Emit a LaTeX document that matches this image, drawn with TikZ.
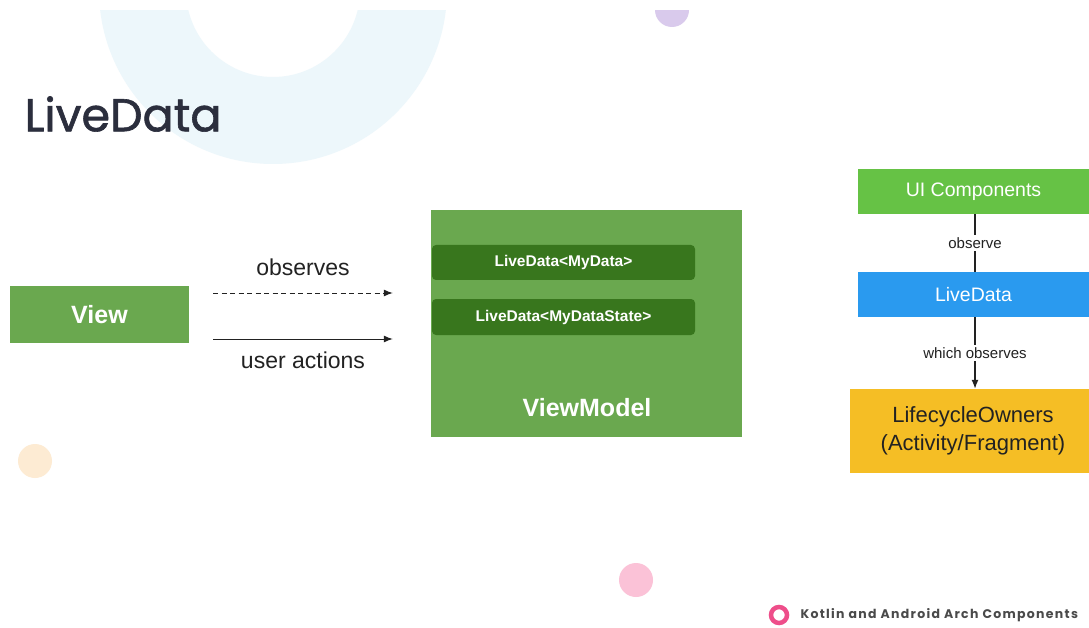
\documentclass[tikz,border=0pt]{standalone}
\usepackage{fontspec}
\setmainfont{Liberation Sans}
\newfontfamily\titlefont[FakeBold=1.3]{Poppins}
\newfontfamily\footfont[LetterSpace=10.5]{Poppins}
\usetikzlibrary{arrows.meta}
\definecolor{ringblue}{HTML}{EDF7FB}
\definecolor{lilac}{HTML}{D9CAEC}
\definecolor{peach}{HTML}{FDEBD3}
\definecolor{blush}{HTML}{FBC2D7}
\definecolor{titleink}{HTML}{2B2E3D}
\definecolor{leafgreen}{HTML}{6AA84F}
\definecolor{darkleaf}{HTML}{38761D}
\definecolor{limegreen}{HTML}{66C245}
\definecolor{skyblue}{HTML}{2A9AEF}
\definecolor{sunyellow}{HTML}{F5BE25}
\definecolor{ink}{HTML}{222222}
\definecolor{footink}{HTML}{4A4A4A}
\definecolor{logopink}{HTML}{EE4E8A}
\tikzset{
  box/.style={inner sep=0pt, draw=none},
  greenbox/.style={box, fill=leafgreen, text=white, font=\bfseries\fontsize{25}{30}\selectfont},
  databox/.style={box, fill=darkleaf, rounded corners=4pt, text=white,
    minimum width=263pt, font=\bfseries\fontsize{15.5}{18}\selectfont},
  sidebox/.style={box, minimum width=231pt, minimum height=45pt, text=white,
    font=\fontsize{19.5}{23}\selectfont},
  flowlabel/.style={text=ink, font=\fontsize{23}{27}\selectfont},
  linklabel/.style={fill=white, inner sep=2pt, text=ink, font=\fontsize{15}{18}\selectfont},
  conn/.style={draw=ink, line width=1.3pt},
  tip/.style={-{Latex[length=9pt,width=7pt]}},
}
\begin{document}
\begin{tikzpicture}[x=1pt,y=-1pt]
  % page
  \fill[white] (0,0) rectangle (1089,628);
  \useasboundingbox (0,0) rectangle (1089,628);

  % background decorations
  \begin{scope}
    \clip (0,11) rectangle (1089,628);
    \fill[ringblue, even odd rule] (273,-10) circle[radius=174] (273,-10) circle[radius=87];
    \fill[lilac] (672,10) circle[radius=17];
  \end{scope}
  \fill[peach] (35,461) circle[radius=17];
  \fill[blush] (636,580) circle[radius=17];

  % title
  \node[anchor=west, text=titleink, font=\titlefont\fontsize{46}{54}\selectfont]
    (title) at (21,114) {LiveData};

  % view and view model
  \node[greenbox, minimum width=179pt, minimum height=57pt] (view) at (99.5,314.5) {View};
  \node[greenbox, minimum width=311pt, minimum height=227pt] (vm) at (586.5,323.5) {};
  \node[text=white, font=\bfseries\fontsize{25}{30}\selectfont] (vmlabel) at (587,408) {ViewModel};
  \node[databox, minimum height=35pt] (ld1) at (563.5,262.5) {LiveData<MyData>};
  \node[databox, minimum height=36pt] (ld2) at (563.5,317) {LiveData<MyDataState>};

  % interactions between view and view model
  \coordinate (obsA) at ([shift={(24,-21.5)}]view.east);
  \coordinate (obsB) at ([shift={(-38,-30.5)}]vm.west);
  \coordinate (actA) at ([shift={(24,24.5)}]view.east);
  \coordinate (actB) at ([shift={(-38,15.5)}]vm.west);
  \draw[conn, tip, line width=1pt, dash pattern=on 5pt off 3.5pt] (obsA) -- (obsB);
  \draw[conn, tip, line width=1pt] (actA) -- (actB);
  \node[flowlabel] (obslabel) at (303,267) {observes};
  \node[flowlabel] (actlabel) at (303,360) {user actions};

  % observer chain
  \node[sidebox, fill=limegreen] (ui) at (973.5,191.5) {UI Components};
  \node[sidebox, fill=skyblue] (live) at (973.5,294.5) {LiveData};
  \node[box, fill=sunyellow, minimum width=239pt, minimum height=84pt] (owner) at (969.5,431) {};
  \node[text=ink, align=center, font=\fontsize{22}{28}\selectfont] (ownerlabel) at (973,431)
    {LifecycleOwners\\(Activity/Fragment)};
  \draw[conn] ([xshift=1.5pt]ui.south) -- node[linklabel] (lbl1) {observe} ([xshift=1.5pt]live.north);
  \draw[conn, tip] ([xshift=1.5pt]live.south) -- node[linklabel] (lbl2) {which observes} ([xshift=5.5pt]owner.north);

  % footer
  \draw[logopink, line width=4.5pt] (779,615) circle[radius=8];
  \node[anchor=west, text=footink, font=\footfont\bfseries\fontsize{12.5}{15}\selectfont]
    (foot) at (797,615) {Kotlin and Android Arch Components};
\end{tikzpicture}
\end{document}
